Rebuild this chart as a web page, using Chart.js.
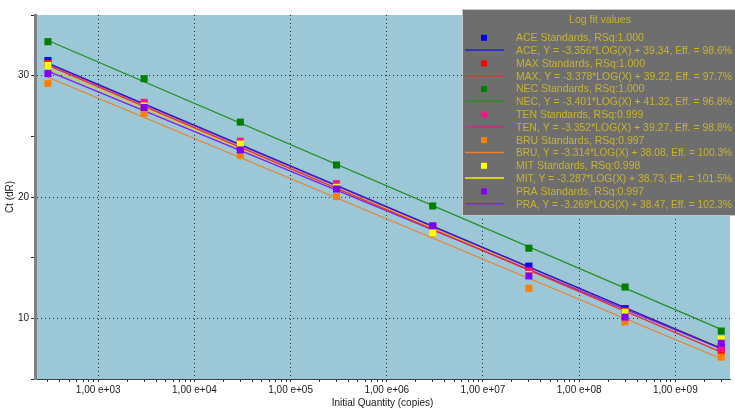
<!DOCTYPE html>
<html>
<head>
<meta charset="utf-8">
<script src="https://cdn.jsdelivr.net/npm/chart.js@4/dist/chart.umd.min.js"></script>
<style>
  html, body { margin: 0; padding: 0; background: #ffffff; }
  #wrap { width: 735px; height: 409px; }
</style>
</head>
<body>
<div id="wrap"><canvas id="chart" width="735" height="409"></canvas></div>
<script>
// quantities (copies) of the dilution standards
var quantities = [3e2, 3e3, 3e4, 3e5, 3e6, 3e7, 3e8, 3e9];

var seriesNames = ["ACE", "MAX", "NEC", "TEN", "BRU", "MIT", "PRA"];

// Ct values
var aceCt = [31.25, 27.6, 24.3, 20.9, 17.55, 14.3, 10.8, 7.6];
var maxCt = [31.0, 27.5, 24.1, 20.7, 17.3, 13.9, 10.6, 7.27];
var necCt = [32.8, 29.75, 26.17, 22.64, 19.26, 15.78, 12.58, 8.95];
var tenCt = [30.9, 27.8, 24.6, 21.1, 17.5, 13.9, 10.5, 7.5];
var bruCt = [29.36, 26.9, 23.41, 20.03, 17.0, 12.48, 9.7, 6.8];
var mitCt = [30.85, 27.5, 24.36, 20.8, 17.05, 13.6, 10.5, 8.26];
var praCt = [30.17, 27.38, 23.88, 20.66, 17.63, 13.5, 10.1, 7.95];
var ctSeries = [aceCt, maxCt, necCt, tenCt, bruCt, mitCt, praCt];

// fit line ends (at the first and last standard)
var fitStart = [31.03, 30.85, 32.90, 30.97, 29.87, 30.59, 30.37];
var fitEnd = [7.53, 7.21, 9.09, 7.50, 6.67, 7.58, 7.49];

// legend texts
var rsqText = ["1.000", "1.000", "1.000", "0.999", "0.997", "0.998", "0.997"];
var slopeText = ["-3.356", "-3.378", "-3.401", "-3.352", "-3.314", "-3.287", "-3.269"];
var interceptText = ["39.34", "39.22", "41.32", "39.27", "38.08", "38.73", "38.47"];
var effText = ["98.6", "97.7", "96.8", "98.8", "100.3", "101.5", "102.3"];

var pointColors = ["#0000ff", "#ff0000", "#008000", "#ff1488", "#ff8000", "#ffff00", "#8000ff"];
var lineColors = ["#2020d8", "#e83030", "#209020", "#e02088", "#f08028", "#d0d020", "#8020f0"];

var fontName = "'Liberation Sans', Arial, sans-serif";

var datasets = [];
for (var i = 0; i < seriesNames.length; i++) {
  var pts = [];
  for (var j = 0; j < quantities.length; j++) {
    pts.push({ x: quantities[j], y: ctSeries[i][j] });
  }
  datasets.push({
    label: seriesNames[i] + " Standards",
    data: pts,
    showLine: false,
    pointStyle: "rect",
    pointRadius: 5,
    pointBorderWidth: 0,
    pointBackgroundColor: pointColors[i],
    order: -i  // later series are painted over earlier ones
  });
}
for (var i = 0; i < seriesNames.length; i++) {
  datasets.push({
    label: seriesNames[i] + " fit",
    data: [{ x: quantities[0], y: fitStart[i] }, { x: quantities[quantities.length - 1], y: fitEnd[i] }],
    showLine: true,
    borderColor: lineColors[i],
    borderWidth: 1.3,
    pointRadius: 0,
    order: 1
  });
}

var plotBackground = {
  id: "plotBackground",
  beforeDraw: function (chart) {
    var a = chart.chartArea;
    var ctx = chart.ctx;
    ctx.save();
    ctx.fillStyle = "#9bc7d6";
    ctx.fillRect(a.left, a.top, a.right - a.left, a.bottom - a.top);
    ctx.restore();
  }
};

// the grey "Log fit values" box in the top right corner
var fitLegend = {
  id: "fitLegend",
  afterDraw: function (chart) {
    var ctx = chart.ctx;
    var left = 462, top = 9, width = 273, height = 207;
    var textX = 516, rowH = 12.8, firstRow = 38.3;
    ctx.save();
    ctx.fillStyle = "#6e6e6e";
    ctx.fillRect(left, top, width, height);
    ctx.strokeStyle = "#c8c8c8";
    ctx.lineWidth = 1;
    ctx.strokeRect(left + 0.5, top + 0.5, width, height - 1);

    ctx.fillStyle = "#c8b42c";
    ctx.font = "10.5px " + fontName;
    ctx.textBaseline = "middle";
    ctx.textAlign = "center";
    ctx.fillText("Log fit values", 600, 20);
    ctx.textAlign = "left";

    for (var i = 0; i < seriesNames.length; i++) {
      var y1 = firstRow + i * 2 * rowH;
      var y2 = y1 + rowH;
      ctx.fillStyle = pointColors[i];
      ctx.fillRect(481, y1 - 3.5, 6, 6);
      ctx.strokeStyle = lineColors[i];
      ctx.lineWidth = seriesNames[i] === "MIT" ? 2 : 1.5;
      ctx.beginPath();
      ctx.moveTo(465, y2 - 1);
      ctx.lineTo(504, y2 - 1);
      ctx.stroke();
      ctx.fillStyle = "#c8b42c";
      ctx.fillText(seriesNames[i] + " Standards, RSq:" + rsqText[i], textX, y1);
      ctx.fillText(seriesNames[i] + ", Y = " + slopeText[i] + "*LOG(X) + " + interceptText[i] +
        ", Eff. = " + effText[i] + "%", textX, y2, 216);
    }
    ctx.restore();
  }
};

function decadeLabel(v) {
  var e = Math.round(Math.log10(v));
  return "1,00 e+" + (e < 10 ? "0" + e : e);
}

function isDecade(v) {
  var l = Math.log10(v);
  return Math.abs(l - Math.round(l)) < 1e-9;
}

new Chart(document.getElementById("chart"), {
  type: "scatter",
  data: { datasets: datasets },
  plugins: [plotBackground, fitLegend],
  options: {
    responsive: false,
    animation: false,
    layout: { padding: { top: 15, right: 0, left: 0, bottom: 0 } },
    plugins: { legend: { display: false }, tooltip: { enabled: false } },
    scales: {
      x: {
        type: "logarithmic",
        min: 220,
        max: 3.7e9,
        afterBuildTicks: function (scale) {
          var t = [];
          for (var e = 2; e <= 9; e++) {
            for (var k = 1; k <= 9; k++) {
              var v = k * Math.pow(10, e);
              if (v >= scale.min && v <= scale.max) t.push({ value: v });
            }
          }
          scale.ticks = t;
        },
        afterFit: function (scale) { scale.height = 30; },
        ticks: {
          autoSkip: false,
          maxRotation: 0,
          padding: 2,
          color: "#202020",
          font: { size: 10, family: fontName },
          callback: function (v) { return isDecade(v) ? decadeLabel(v) : ""; }
        },
        grid: {
          color: function (c) { return c.tick && isDecade(c.tick.value) ? "#1e3240" : "rgba(0,0,0,0)"; },
          tickColor: "#303030",
          tickLength: 3,
          lineWidth: 1
        },
        border: { color: "#404040", width: 1, dash: [1, 3] },
        title: {
          display: true,
          text: "Initial Quantity (copies)",
          color: "#202020",
          font: { size: 10, family: fontName },
          padding: { top: 0, bottom: 0 }
        }
      },
      y: {
        min: 5,
        max: 35,
        afterFit: function (scale) { scale.width = 35; },
        ticks: {
          stepSize: 5,
          padding: 2,
          color: "#202020",
          font: { size: 10, family: fontName },
          callback: function (v) { return v % 10 === 0 ? String(v) : ""; }
        },
        grid: {
          color: function (c) { return c.tick && c.tick.value % 10 === 0 && c.tick.value > 5 && c.tick.value < 35 ? "#1e3240" : "rgba(0,0,0,0)"; },
          tickColor: "#303030",
          tickLength: 4,
          lineWidth: 1
        },
        border: { color: "#808080", width: 3, dash: [1, 3] },
        title: {
          display: true,
          text: "Ct (dR)",
          color: "#202020",
          font: { size: 10, family: fontName },
          padding: { top: 4, bottom: 0 }
        }
      }
    }
  }
});
</script>
</body>
</html>
